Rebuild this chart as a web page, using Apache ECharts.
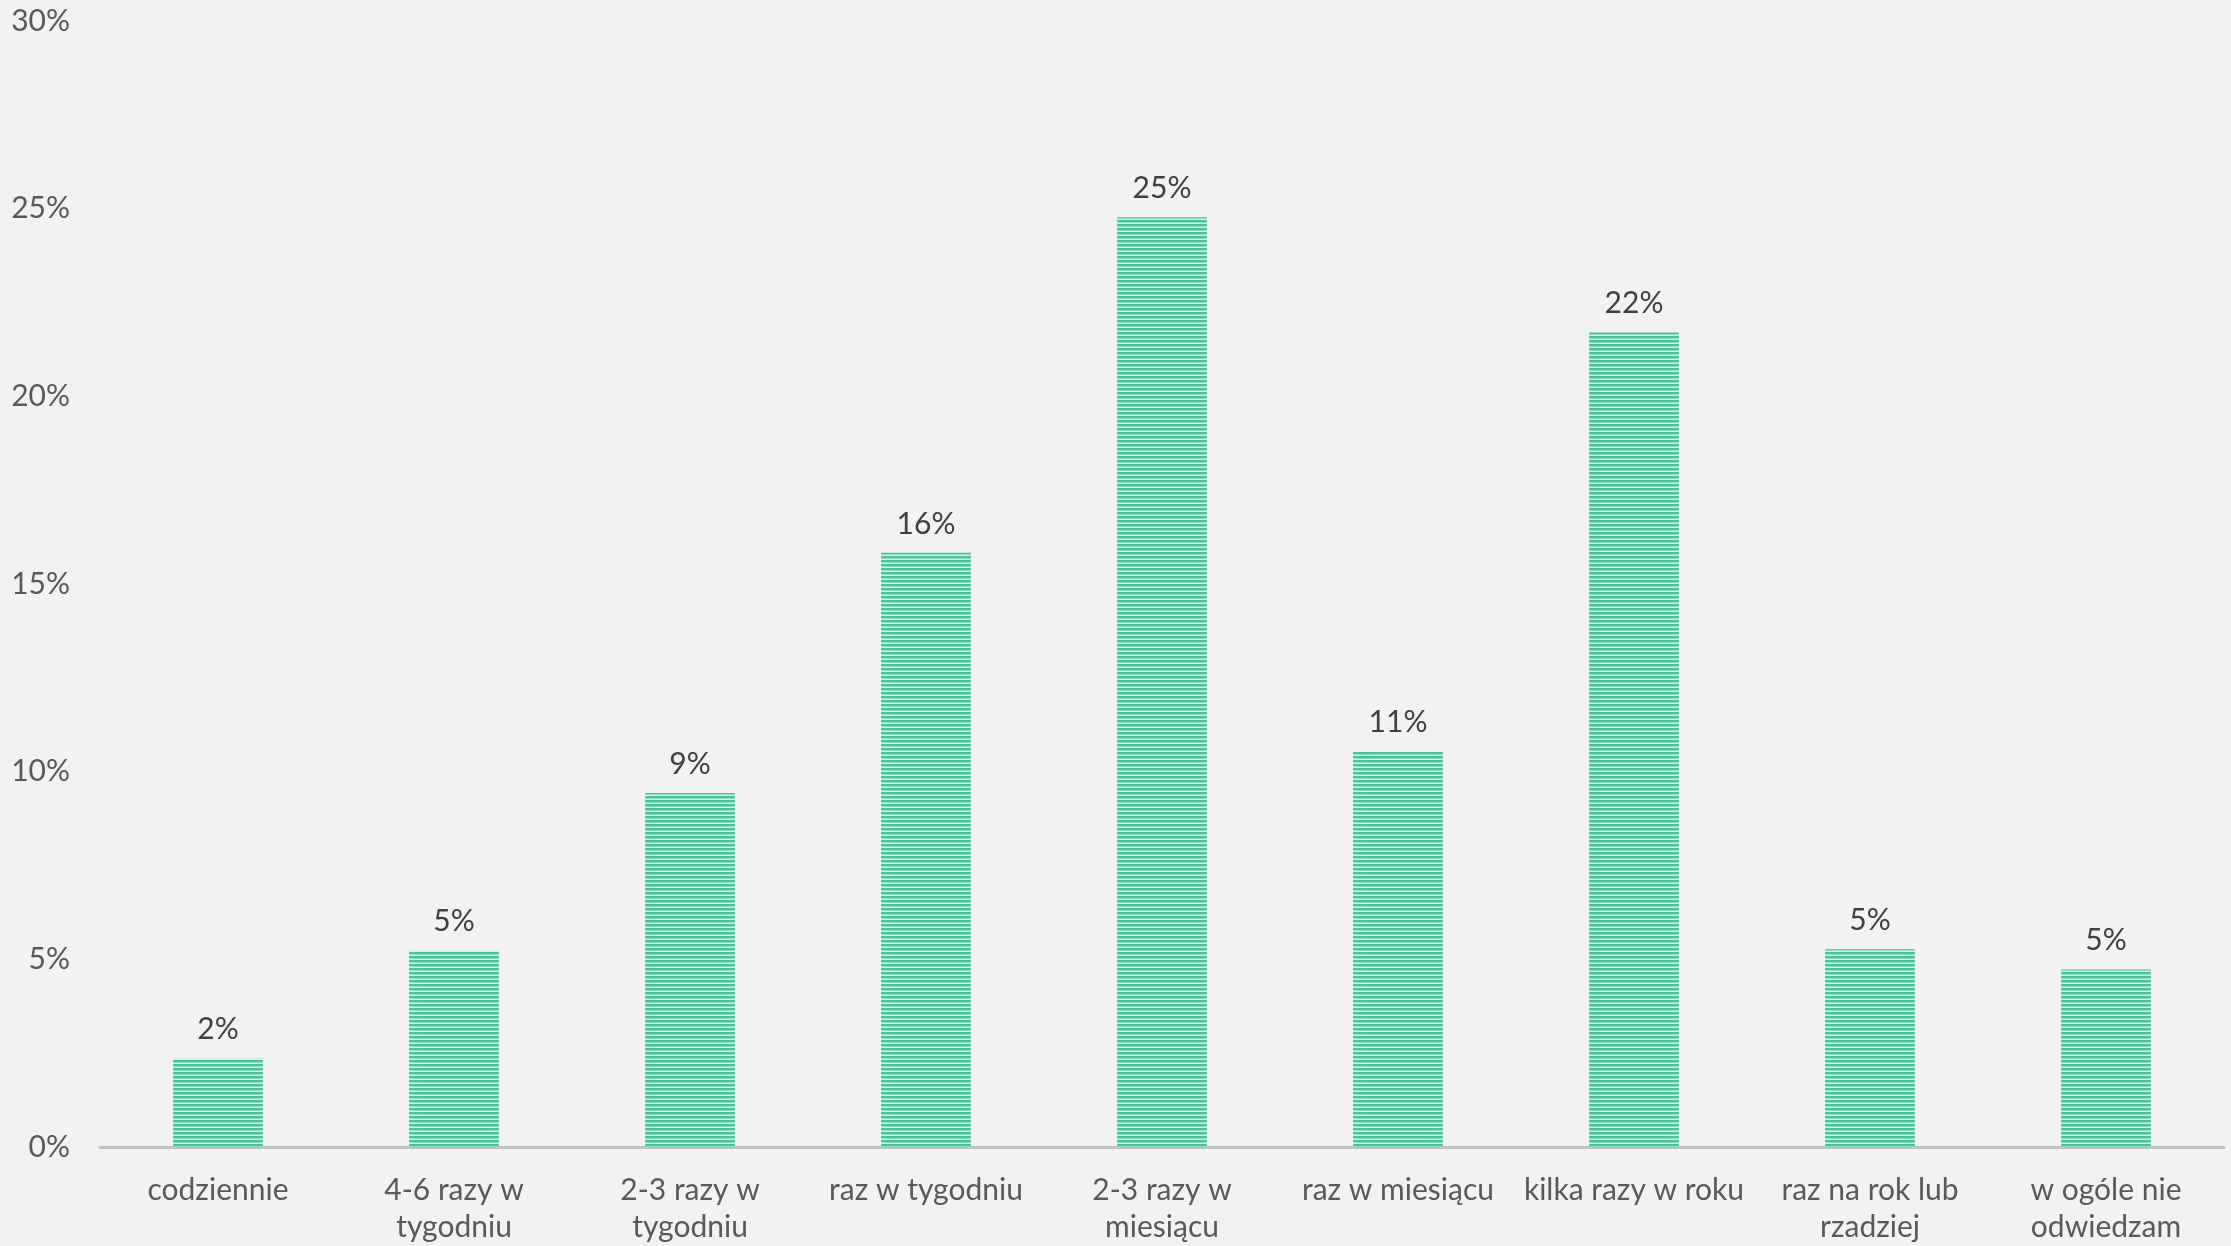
<!DOCTYPE html>
<html>
<head>
<meta charset="utf-8">
<script src="https://cdn.jsdelivr.net/npm/echarts@6/dist/echarts.min.js"></script>
<style>
html,body{margin:0;padding:0;background:#f2f2f2;}
#chart{width:2231px;height:1246px;}
</style>
</head>
<body>
<div id="chart"></div>
<script>
const categories = ["codziennie", "4-6 razy w\ntygodniu", "2-3 razy w\ntygodniu", "raz w tygodniu", "2-3 razy w\nmiesiącu", "raz w miesiącu", "kilka razy w roku", "raz na rok lub\nrzadziej", "w ogóle nie\nodwiedzam"];
const values = [2.35, 5.23, 9.43, 15.83, 24.77, 10.53, 21.7, 5.27, 4.73];
const yTicks = [0, 5, 10, 15, 20, 25, 30];

// striped fill pattern
const pc = document.createElement('canvas');
pc.width = 4; pc.height = 4;
const pctx = pc.getContext('2d');
pctx.fillStyle = '#44c39c'; pctx.fillRect(0, 0, 4, 2);
pctx.fillStyle = '#8fdcc3'; pctx.fillRect(0, 2, 4, 1);
pctx.fillStyle = '#d2f2e7'; pctx.fillRect(0, 3, 4, 1);

const font = 'Lato, "Open Sans", sans-serif';
const chart = echarts.init(document.getElementById('chart'), null, {renderer: 'canvas'});
chart.setOption({
  backgroundColor: '#f2f2f2',
  animation: false,
  grid: {left: 100, right: 7, top: 21, bottom: 98, containLabel: false},
  xAxis: {
    type: 'category',
    data: categories,
    axisLine: {lineStyle: {color: '#bfbfbf', width: 3}},
    axisTick: {show: false},
    axisLabel: {color: '#595959', fontSize: 30, fontFamily: font, margin: 25, lineHeight: 37, interval: 0}
  },
  yAxis: {
    type: 'value',
    min: yTicks[0],
    max: yTicks[yTicks.length - 1],
    interval: 5,
    axisLine: {show: false},
    axisTick: {show: false},
    splitLine: {show: false},
    axisLabel: {color: '#595959', fontSize: 30, fontFamily: font, margin: 30, formatter: v => v + '%'}
  },
  series: [{
    type: 'bar',
    data: values,
    barWidth: '38%',
    itemStyle: {color: {image: pc, repeat: 'repeat'}},
    label: {
      show: true, position: 'top', distance: 14,
      color: '#404040', fontSize: 30, fontFamily: font,
      formatter: p => Math.round(p.value) + '%'
    }
  }]
});
</script>
</body>
</html>
